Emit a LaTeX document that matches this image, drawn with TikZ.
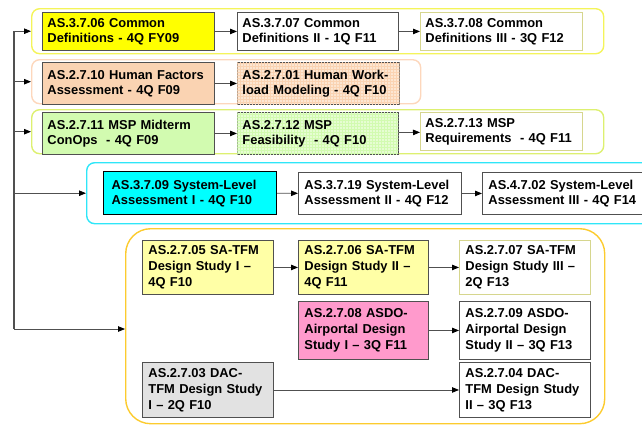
\documentclass[tikz,border=0pt]{standalone}
\usepackage{fontspec}
\setmainfont{Liberation Sans}
\usetikzlibrary{arrows.meta,patterns}
\definecolor{edge}{HTML}{505050}
\definecolor{cyellow}{HTML}{F4F45A}
\definecolor{cpeach}{HTML}{FDD7BC}
\definecolor{cgreen}{HTML}{DDF070}
\definecolor{ccyan}{HTML}{2EE6F8}
\definecolor{cgold}{HTML}{FCCB2E}
\definecolor{fyellow}{HTML}{FFFF00}
\definecolor{fpeach}{HTML}{FAD3B2}
\definecolor{fpeachlt}{HTML}{FCE6D2}
\definecolor{fgreen}{HTML}{D2FBB0}
\definecolor{fgreenlt}{HTML}{E6FDD2}
\definecolor{fcyan}{HTML}{00FFFF}
\definecolor{flyellow}{HTML}{FFFFA6}
\definecolor{fpink}{HTML}{FF9ACC}
\definecolor{fgray}{HTML}{E2E2E2}
\definecolor{olive}{HTML}{D6D68E}
\tikzset{
  cont/.style={draw, line width=1.4pt, rounded corners=8pt, anchor=north west, inner sep=0pt},
  bx/.style={draw=edge, line width=0.9pt, anchor=north west, align=left, inner xsep=5pt, inner ysep=0pt,
    font=\fontsize{12.9}{15}\selectfont\bfseries, text=black},
  bxl/.style={bx, font=\fontsize{12.9}{16}\selectfont\bfseries},
  arr/.style={draw=edge, line width=0.8pt, -{Triangle[length=7pt,width=5.5pt,fill=black,color=black]}},
  trunk/.style={draw=edge, line width=1.4pt},
}
\begin{document}
\begin{tikzpicture}[x=1pt,y=-1pt]
\useasboundingbox (0,0) rectangle (642,429);
\clip (0,0) rectangle (642,429);
% containers
\node[cont, draw=cyellow, minimum width=572pt, minimum height=45pt] (g1) at (31,8) {};
\node[cont, draw=cpeach, minimum width=389pt, minimum height=44pt] (g2) at (31,59) {};
\node[cont, draw=cgreen, minimum width=572pt, minimum height=44pt] (g3) at (31,109) {};
\node[cont, draw=ccyan, minimum width=580pt, minimum height=61pt] (g4) at (86,162) {};
\node[cont, draw=cgold, rounded corners=25pt, minimum width=479pt, minimum height=195pt] (g5) at (125,228) {};
% row 1
\node[bx, fill=fyellow, minimum width=172pt, minimum height=38pt, text width=162pt] (a1) at (42,12) {AS.3.7.06 Common\\Definitions - 4Q FY09};
\node[bx, fill=white, minimum width=161pt, minimum height=38pt, text width=151pt] (a2) at (237,12) {AS.3.7.07 Common\\Definitions II - 1Q F11};
\node[bx, draw=olive, fill=white, minimum width=162pt, minimum height=38pt, text width=152pt] (a3) at (420,12) {AS.3.7.08 Common\\Definitions III - 3Q F12};
% row 2
\node[bx, fill=fpeach, minimum width=172pt, minimum height=42pt, text width=162pt] (b1) at (42,62) {AS.2.7.10 Human Factors\\Assessment - 4Q F09};
\node[bx, fill=fpeachlt, postaction={pattern=grid, pattern color=fpeach}, minimum width=162pt, minimum height=42pt, text width=152pt] (b2) at (237,62) {AS.2.7.01 Human Work-\\load Modeling - 4Q F10};
% row 3
\node[bx, fill=fgreen, minimum width=172pt, minimum height=42pt, text width=162pt] (c1) at (42,112) {AS.2.7.11 MSP Midterm\\ConOps\ \ - 4Q F09};
\node[bx, fill=fgreenlt, postaction={pattern=grid, pattern color=fgreen}, minimum width=161pt, minimum height=42pt, text width=151pt] (c2) at (237,112) {AS.2.7.12 MSP\\Feasibility\ \ - 4Q F10};
\node[bx, draw=olive, fill=white, minimum width=162pt, minimum height=38pt, text width=152pt] (c3) at (420,112) {AS.2.7.13 MSP\\Requirements\ \ - 4Q F11};
% row 4
\node[bx, draw=black, line width=1.2pt, fill=fcyan, minimum width=167pt, minimum height=43pt, text width=157pt, inner xsep=8pt] (d1) at (103,171) {AS.3.7.09 System-Level\\Assessment I - 4Q F10};
\node[bx, fill=white, minimum width=161pt, minimum height=42pt, text width=151pt, inner xsep=6pt] (d2) at (298,172) {AS.3.7.19 System-Level\\Assessment II - 4Q F12};
\node[bx, fill=white, minimum width=162pt, minimum height=42pt, text width=152pt, inner xsep=6pt] (d3) at (482,172) {AS.4.7.02 System-Level\\Assessment III - 4Q F14};
% row 5
\node[bxl, fill=flyellow, minimum width=129pt, minimum height=54pt, text width=119pt, inner xsep=6pt] (e1) at (142,240) {AS.2.7.05 SA-TFM\\Design Study I --\\4Q F10};
\node[bxl, fill=flyellow, minimum width=128pt, minimum height=54pt, text width=118pt, inner xsep=6pt] (e2) at (298,240) {AS.2.7.06 SA-TFM\\Design Study II --\\4Q F11};
\node[bxl, draw=olive, fill=white, minimum width=129pt, minimum height=54pt, text width=119pt, inner xsep=6pt] (e3) at (459,240) {AS.2.7.07 SA-TFM\\Design Study III --\\2Q F13};
\node[bxl, fill=fpink, minimum width=128pt, minimum height=58pt, text width=118pt, inner xsep=6pt] (f1) at (298,301) {AS.2.7.08 ASDO-\\Airportal Design\\Study I -- 3Q F11};
\node[bxl, fill=white, minimum width=129pt, minimum height=58pt, text width=119pt, inner xsep=6pt] (f2) at (459,301) {AS.2.7.09 ASDO-\\Airportal Design\\Study II -- 3Q F13};
\node[bxl, fill=fgray, minimum width=129pt, minimum height=55pt, text width=119pt, inner xsep=6pt] (h1) at (142,362) {AS.2.7.03 DAC-\\TFM Design Study\\I -- 2Q F10};
\node[bxl, fill=white, minimum width=129pt, minimum height=55pt, text width=119pt, inner xsep=6pt] (h2) at (459,362) {AS.2.7.04 DAC-\\TFM Design Study\\II -- 3Q F13};
% connectors inside groups
\draw[arr] (a1) -- (a2);
\draw[arr] (a2) -- (a3);
\draw[arr] (b1) -- (b2);
\draw[arr] (c1) -- (c2);
\draw[arr] (c2) -- (c3);
\draw[arr] (d1) -- (d2);
\draw[arr] (d2) -- (d3);
\draw[arr] (e1) -- (e2);
\draw[arr] (e2) -- (e3);
\draw[arr] (f1) -- (f2);
\draw[arr] (h1) -- (h2);
% trunk
\coordinate (t1) at (14,31);
\coordinate (t5) at (14,329);
\draw[trunk] (t1) -- (t5);
\draw[arr] (g1.west -| t1) -- (g1.west);
\draw[arr] (g2.west -| t1) -- (g2.west);
\draw[arr] (g3.west -| t1) -- (g3.west);
\draw[arr] (g4.west -| t1) -- (g4.west);
\draw[arr] (t5) -- (t5 -| g5.west);
% stray small tip
\coordinate (s1) at (235,106);
\coordinate (s2) at (229,106);
\draw[draw=none, -{Triangle[length=5pt,width=4pt,fill=black,color=black]}] (s1) -- (s2);
\end{tikzpicture}
\end{document}
